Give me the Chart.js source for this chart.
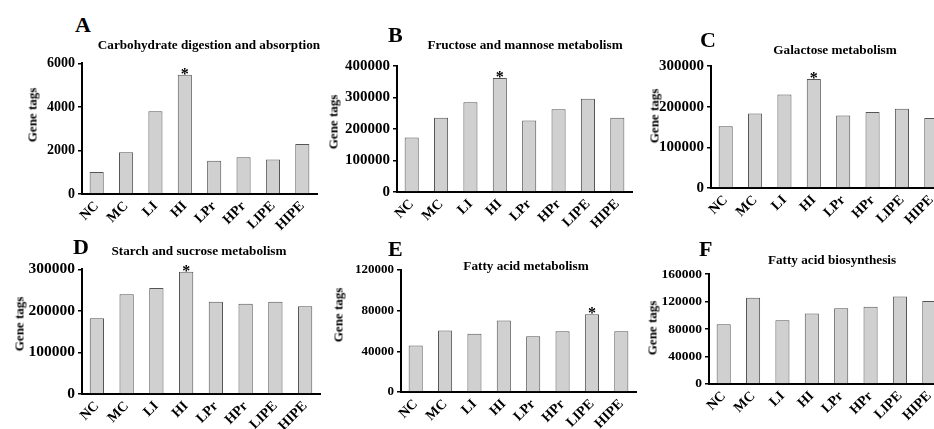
<!DOCTYPE html>
<html>
<head>
<meta charset="utf-8">
<script src="https://cdn.jsdelivr.net/npm/chart.js@4.4.1/dist/chart.umd.min.js"></script>
<style>
  html, body { margin: 0; padding: 0; background: #fff; }
  body { width: 934px; height: 429px; overflow: hidden; position: relative; }
  canvas { position: absolute; }
  .txt { position: absolute; font-family: "Liberation Serif", "Times New Roman", serif; font-weight: bold; color: #000; white-space: nowrap; line-height: 1; }
</style>
</head>
<body>
<script>
// categories (same for every panel)
const groups = ["NC", "MC", "LI", "HI", "LPr", "HPr", "LIPE", "HIPE"];

// gene tag counts
const carbDigestion = [1010, 1920, 3800, 5480, 1530, 1690, 1590, 2300];
const fructoseMannose = [173000, 236000, 285000, 362000, 227000, 263000, 296000, 236000];
const galactose = [152000, 183000, 230000, 268000, 178000, 187000, 195000, 172000];
const starchSucrose = [182000, 240000, 255000, 294000, 222000, 217000, 222000, 211000];
const fattyAcidMetab = [45700, 60300, 57100, 70100, 54800, 59700, 76300, 59700];
const fattyAcidBiosyn = [87000, 125500, 92700, 102800, 110400, 112400, 127300, 121000];

const panelLetters = ["A", "B", "C", "D", "E", "F"];
const panelTitles = [
  "Carbohydrate digestion and absorption",
  "Fructose and mannose metabolism",
  "Galactose metabolism",
  "Starch and sucrose metabolism",
  "Fatty acid metabolism",
  "Fatty acid biosynthesis"
];
const panelValues = [carbDigestion, fructoseMannose, galactose, starchSucrose, fattyAcidMetab, fattyAcidBiosyn];
const yMax = [6000, 400000, 300000, 300000, 120000, 160000];
const yStep = [2000, 100000, 100000, 100000, 40000, 40000];
const starIndex = [3, 3, 3, 3, 6, -1]; // bar that gets the "*"

// layout of each panel (plot box, letter, title, y label)
const layout = [
  { ax: 82, top: 62, bot: 194, right: 317, tick: 14, letter: [75, 18], title: [209, 44], ylab: [32, 115] },
  { ax: 397, top: 64, bot: 192, right: 632, tick: 15, letter: [388, 28], title: [525, 44], ylab: [333, 122] },
  { ax: 711, top: 64, bot: 188, right: 946, tick: 15, letter: [700, 33], title: [835, 49], ylab: [654, 116] },
  { ax: 82, top: 267, bot: 394, right: 320, tick: 15.5, letter: [73, 240], title: [199, 250], ylab: [19, 324] },
  { ax: 401, top: 269, bot: 392, right: 636, tick: 13, letter: [388, 242], title: [526, 265], ylab: [338, 315] },
  { ax: 709, top: 273, bot: 384, right: 944, tick: 13.5, letter: [699, 242], title: [832, 259], ylab: [652, 328] }
];

const FONT = "'Liberation Serif', 'Times New Roman', serif";
const YW = 72, XH = 42, PADT = 10, PADR = 6;

const starPlugin = {
  id: "stars",
  afterDatasetsDraw(chart, args, opts) {
    if (opts.index < 0) return;
    const bar = chart.getDatasetMeta(0).data[opts.index];
    const ctx = chart.ctx;
    ctx.save();
    ctx.font = "bold 16px " + FONT;
    ctx.fillStyle = "#000";
    ctx.textAlign = "center";
    ctx.textBaseline = "alphabetic";
    ctx.fillText("*", bar.x, bar.y + 4);
    ctx.restore();
  }
};

function addText(str, css) {
  const d = document.createElement("div");
  d.className = "txt";
  d.textContent = str;
  Object.assign(d.style, css);
  document.body.appendChild(d);
}

function drawPanel(i) {
  const L = layout[i];
  const cv = document.createElement("canvas");
  const w = L.right - L.ax + YW + PADR;
  const h = L.bot - L.top + PADT + XH;
  cv.width = w;
  cv.height = h;
  cv.style.left = (L.ax - YW) + "px";
  cv.style.top = (L.top - PADT) + "px";
  cv.style.width = w + "px";
  cv.style.height = h + "px";
  document.body.appendChild(cv);

  new Chart(cv.getContext("2d"), {
    type: "bar",
    data: {
      labels: groups,
      datasets: [{
        data: panelValues[i],
        backgroundColor: "#d0d0d0",
        borderColor: "#555555",
        borderWidth: 1,
        borderSkipped: "bottom",
        barPercentage: 0.48,
        categoryPercentage: 1
      }]
    },
    options: {
      responsive: false,
      animation: false,
      layout: { padding: { top: PADT, right: PADR, left: 0, bottom: 0 } },
      plugins: {
        legend: { display: false },
        tooltip: { enabled: false },
        stars: { index: starIndex[i] }
      },
      scales: {
        x: {
          afterFit: (s) => { s.height = XH; },
          grid: { display: false, drawTicks: false },
          border: { display: true, color: "#000", width: 2 },
          ticks: {
            color: "#000",
            font: { family: FONT, weight: "bold", size: 14 },
            maxRotation: 45,
            minRotation: 45,
            padding: 4,
            autoSkip: false
          }
        },
        y: {
          min: 0,
          max: yMax[i],
          afterFit: (s) => { s.width = YW; },
          grid: { drawOnChartArea: false, drawTicks: true, tickLength: 4, color: "#000", lineWidth: 1.5 },
          border: { display: true, color: "#000", width: 2 },
          ticks: {
            stepSize: yStep[i],
            color: "#000",
            padding: 3,
            font: { family: FONT, weight: "bold", size: L.tick },
            callback: (v) => String(v)
          }
        }
      }
    },
    plugins: [starPlugin]
  });

  addText(panelLetters[i], { left: L.letter[0] + "px", top: (L.letter[1] - 4) + "px", fontSize: "22px" });
  addText(panelTitles[i], { left: L.title[0] + "px", top: (L.title[1] + 1) + "px", fontSize: "13.2px", transform: "translate(-50%,-50%)" });
  addText("Gene tags", { left: L.ylab[0] + "px", top: L.ylab[1] + "px", fontSize: "13px", transform: "translate(-50%,-50%) rotate(-90deg)" });
}

for (let i = 0; i < 6; i++) drawPanel(i);
</script>
</body>
</html>
